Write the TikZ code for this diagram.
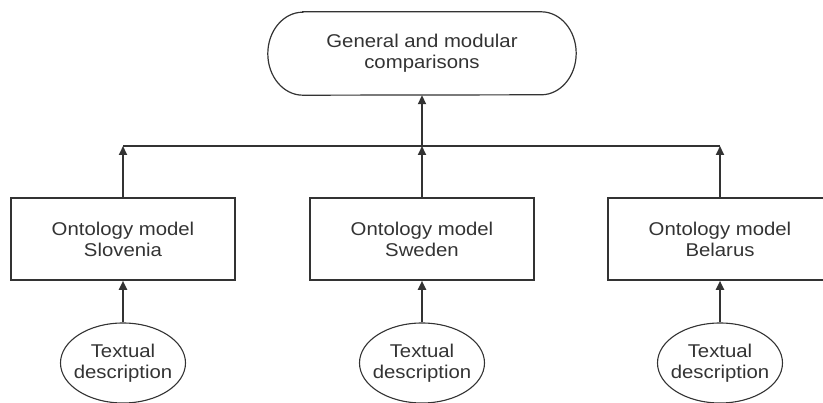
\documentclass[tikz,border=0pt]{standalone}
\usepackage{fontspec}
\setmainfont{Liberation Sans}[FakeStretch=1.1]
\usetikzlibrary{arrows.meta,shapes.geometric}
\definecolor{ink}{HTML}{333333}
\begin{document}
\begin{tikzpicture}[x=1pt,y=-1pt,
  every node/.style={font=\fontsize{18.5}{21}\selectfont, text=ink, align=center},
  modelbox/.style={draw=ink, line width=1.6pt, minimum width=224pt, minimum height=82pt, inner sep=0pt},
  source/.style={draw=ink, line width=1.1pt, ellipse, minimum width=125pt, minimum height=80pt, inner sep=0pt},
  goal/.style={minimum width=308pt, minimum height=83pt, inner sep=0pt},
  outline/.style={draw=ink, line width=1.2pt},
  feed/.style={draw=ink, line width=1.9pt, -{Triangle[width=8pt,length=9pt]}},
  busline/.style={draw=ink, line width=1.3pt}]
\useasboundingbox (0,0) rectangle (823,403);
\clip (0,0) rectangle (823,403);

% comparison stage with elliptic ends
\node[goal] (top) at (422,53.5) {General and modular\\comparisons};
\draw[outline] ([xshift=35pt]top.north west) -- ([xshift=-35pt]top.north east)
  arc[start angle=90, end angle=-90, x radius=35pt, y radius=41.5pt]
  -- ([xshift=35pt]top.south west)
  arc[start angle=-90, end angle=-270, x radius=35pt, y radius=41.5pt] -- cycle;

% ontology models
\node[modelbox] (m1) at (123,239) {Ontology model\\Slovenia};
\node[modelbox] (m2) at (422,239) {Ontology model\\Sweden};
\node[modelbox] (m3) at (720,239) {Ontology model\\Belarus};

% textual sources
\node[source, label={[align=center]center:Textual\\description}] (t1) at (123,363) {};
\node[source, label={[align=center]center:Textual\\description}] (t2) at (422,363) {};
\node[source, label={[align=center]center:Textual\\description}] (t3) at (720,363) {};

% collecting bus
\coordinate (bus) at (422,146);
\draw[busline] (m1.north |- bus) -- (m3.north |- bus);
\draw[feed] (m1.north) -- (m1.north |- bus);
\draw[feed] (m2.north) -- (bus);
\draw[feed] (m3.north) -- (m3.north |- bus);
\draw[feed] (bus) -- (top.south);

% sources feed the models
\draw[feed] (t1.north) -- (m1.south);
\draw[feed] (t2.north) -- (m2.south);
\draw[feed] (t3.north) -- (m3.south);
\end{tikzpicture}
\end{document}
